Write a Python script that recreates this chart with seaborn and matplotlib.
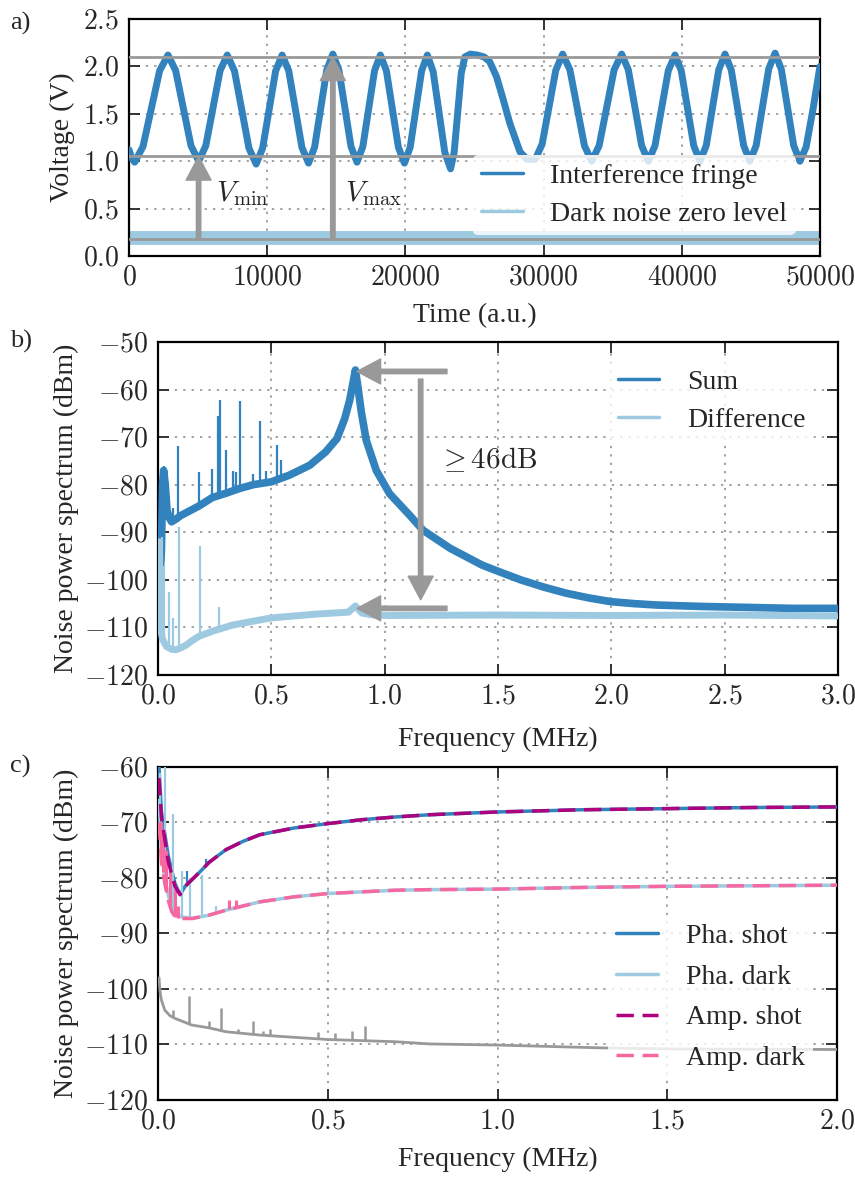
# -*- coding: utf-8 -*-
# fringe visibility + balanced detector noise spectra, three stacked panels
import numpy as np
import pandas as pd
import matplotlib
matplotlib.use("Agg")
import matplotlib.pyplot as plt
from matplotlib.lines import Line2D
from matplotlib.ticker import FuncFormatter, MultipleLocator
import seaborn as sns

# ---------------- data ----------------
# a) interference fringe (time in a.u., voltage in V)
fringe_t = [0, 200, 410, 1012, 1615, 2217, 2820, 3375, 3930, 4485, 5040,
            5557, 6075, 6592, 7110, 7632, 8155, 8677, 9200, 9670, 10140, 10610,
            11080, 11557, 12035, 12512, 12990, 13430, 13870, 14310, 14750,
            15187, 15625, 16062, 16500, 16922, 17345, 17767, 18190, 18625,
            19060, 19495, 19930, 20345, 20760, 21175, 21590, 22010, 22430,
            22850, 23270, 23527, 23785, 24042, 24300, 24700, 25200, 25700,
            26100, 26600, 27080, 27560, 28290, 28800, 29400, 29895, 30390,
            30885, 31380, 31905, 32430, 32955, 33480, 34022, 34565, 35107,
            35650, 36132, 36615, 37097, 37580, 38062, 38545, 39027, 39510,
            39962, 40415, 40867, 41320, 41772, 42225, 42677, 43130, 43580,
            44030, 44480, 44930, 45385, 45840, 46295, 46750, 47200, 47650,
            48100, 48550, 49000, 49500, 50000]
fringe_v = [1.12, 1.03, 0.99, 1.155, 1.555, 1.955, 2.12, 1.956, 1.56, 1.164, 1.0,
            1.164, 1.56, 1.956, 2.12, 1.952, 1.545, 1.138, 0.97, 1.138, 1.545, 1.952,
            2.12, 1.954, 1.55, 1.146, 0.98, 1.148, 1.555, 1.962, 2.13,
            1.963, 1.56, 1.156, 0.99, 1.155, 1.555, 1.955, 2.12, 1.954,
            1.55, 1.146, 0.98, 1.146, 1.55, 1.954, 2.12, 1.945, 1.52,
            1.095, 0.92, 1.092, 1.51, 1.928, 2.10, 2.13, 2.12, 2.10,
            2.05, 1.89, 1.65, 1.40, 1.10, 1.02, 1.02, 1.18, 1.57,
            1.96, 2.13, 1.965, 1.565, 1.165, 1.0, 1.165, 1.565, 1.965,
            2.13, 1.965, 1.565, 1.165, 1.0, 1.164, 1.56, 1.956, 2.12,
            1.956, 1.56, 1.164, 1.0, 1.165, 1.565, 1.965, 2.13, 1.965,
            1.565, 1.165, 1.0, 1.166, 1.57, 1.974, 2.14, 1.974, 1.57,
            1.166, 1.0, 1.15, 1.55, 2.0]
dark_t = [0, 10000, 20000, 30000, 40000, 50000]
dark_v = [0.19, 0.19, 0.19, 0.19, 0.19, 0.19]
v_max, v_min, v_zero = 2.10, 1.05, 0.18

# b) sum / difference spectra (MHz, dBm)
sum_f = [0.008, 0.015, 0.02, 0.025, 0.032, 0.04, 0.05, 0.06, 0.08, 0.1, 0.14,
         0.18, 0.24, 0.3, 0.36, 0.42, 0.5, 0.58, 0.67, 0.74, 0.79, 0.824, 0.846,
         0.86, 0.871, 0.882, 0.897, 0.919, 0.963, 1.022, 1.11, 1.17, 1.29, 1.43,
         1.5, 1.6, 1.7, 1.8, 1.9, 2.0, 2.1, 2.2, 2.4, 2.6, 2.8, 3.0]
sum_db = [-100, -94, -80, -77, -80, -85.5, -87, -87.8, -87.2, -86.5, -85.5,
          -84.5, -82.7, -81.8, -80.8, -80.0, -79.4, -78.0, -75.9, -73.1, -70.3,
          -66.1, -62.2, -58.7, -55.9, -59.4, -64.7, -70.7, -77.0, -81.9, -86.4,
          -89.6, -93.4, -96.9, -98.2, -100.0, -101.5, -102.8, -103.8, -104.6,
          -105.0, -105.3, -105.6, -105.8, -106.0, -106.0]
sum_spike_f = [0.028, 0.066, 0.09, 0.18, 0.24, 0.265, 0.272, 0.30, 0.33, 0.345,
               0.36, 0.42, 0.45, 0.478, 0.527, 0.544]
sum_spike_db = [-76, -85, -71.8, -77.4, -76.6, -65.6, -62.1, -72.8, -77.2, -77.3,
                -62.5, -77.7, -66.7, -77.2, -71.6, -74.9]
diff_f = [0.004, 0.007, 0.012, 0.02, 0.037, 0.06, 0.08, 0.1, 0.125, 0.15, 0.18,
          0.24, 0.33, 0.42, 0.5, 0.6, 0.7, 0.77, 0.84, 0.871, 0.9, 0.95, 1.0,
          1.5, 2.0, 2.5, 3.0]
diff_db = [-92, -105, -110.5, -112.5, -114.0, -114.6, -114.7, -114.3, -113.7,
           -112.8, -111.9, -110.8, -109.5, -108.7, -108.0, -107.6, -107.2,
           -107.0, -106.8, -105.5, -107.0, -107.4, -107.5, -107.4, -107.5,
           -107.4, -107.6]
diff_spike_f = [0.018, 0.026, 0.047, 0.066, 0.093, 0.184, 0.27]
diff_spike_db = [-91, -97, -102.5, -108, -88.8, -92.8, -105.7]

# c) phase / amplitude quadrature spectra (MHz, dBm)
shot_f = [0.003, 0.01, 0.02, 0.03, 0.05, 0.065, 0.08, 0.1, 0.125, 0.15, 0.2,
          0.25, 0.3, 0.4, 0.5, 0.6, 0.7, 0.8, 1.0, 1.25, 1.5, 1.75, 2.0]
pha_shot_db = [-60, -68, -72, -76, -81, -83, -81.5, -80.3, -78.8, -77.2, -74.9,
               -73.4, -72.2, -71.0, -70.2, -69.5, -69.0, -68.6, -68.1, -67.7,
               -67.5, -67.3, -67.2]
amp_shot_db = [-62, -69, -73, -77, -81.5, -83, -81.5, -80.3, -78.8, -77.2, -74.9,
               -73.4, -72.2, -71.0, -70.2, -69.5, -69.0, -68.6, -68.1, -67.7,
               -67.5, -67.3, -67.2]
dark_f = [0.003, 0.01, 0.02, 0.03, 0.04, 0.05, 0.07, 0.1, 0.15, 0.2, 0.3, 0.4,
          0.5, 0.6, 0.7, 0.8, 1.0, 1.25, 1.5, 1.75, 2.0]
pha_dark_db = [-66, -75, -80, -83, -85.5, -86.5, -87.0, -87.3, -86.7, -85.8,
               -84.3, -83.4, -82.8, -82.5, -82.2, -82.1, -82.0, -81.7, -81.5,
               -81.4, -81.3]
amp_dark_db = [-70, -77, -81, -84, -86, -87, -87.3, -87.3, -86.7, -85.8,
               -84.3, -83.4, -82.8, -82.5, -82.2, -82.1, -82.0, -81.7, -81.5,
               -81.4, -81.3]
pha_shot_spike_f = [0.085, 0.14]
pha_shot_spike_db = [-78.8, -76.6]
pha_dark_spike_f = [0.005, 0.02, 0.045, 0.07, 0.093, 0.13, 0.17, 0.5, 0.72]
pha_dark_spike_db = [-61, -60, -68.5, -78.8, -80, -79.5, -85.1, -82, -81.8]
amp_dark_spike_f = [0.008, 0.015, 0.025, 0.035, 0.05, 0.06, 0.21, 0.23]
amp_dark_spike_db = [-70, -72, -75, -78, -82, -85, -84, -84]
elec_f = [0.003, 0.006, 0.01, 0.02, 0.035, 0.05, 0.1, 0.15, 0.2, 0.3, 0.4, 0.5,
          0.6, 0.7, 0.8, 1.0, 1.3, 1.5, 2.0]
elec_db = [-98, -100.5, -102, -103.8, -104.8, -105.3, -106.5, -107, -107.7,
           -108.3, -108.7, -109.1, -109.3, -109.5, -109.9, -110.1, -110.6,
           -110.8, -110.9]
elec_spike_f = [0.045, 0.09, 0.15, 0.185, 0.235, 0.28, 0.31, 0.33, 0.47, 0.52,
                0.57, 0.61]
elec_spike_db = [-103.8, -101.3, -105.8, -103.4, -107.2, -105.8, -107.5, -107.2,
                 -107.7, -108.0, -107.5, -106.7]

# ---------------- style ----------------
DARK = "#3182bd"
LIGHT = "#9ecae1"
MAG = "#ae017e"
PINK = "#f768a1"
GREY = "#999999"

sns.set_style("ticks")
plt.rcParams["font.family"] = ["Liberation Serif", "DejaVu Serif"]
plt.rcParams["mathtext.fontset"] = "cm"
plt.rcParams["axes.linewidth"] = 1.6

fig = plt.figure(figsize=(8.55, 11.8), dpi=100)
ax_a = fig.add_axes([0.1509, 0.783, 0.959 - 0.1509, 0.9839 - 0.783])
ax_b = fig.add_axes([0.1848, 0.428, 0.980 - 0.1848, 0.7102 - 0.428])
ax_c = fig.add_axes([0.1848, 0.0678, 0.979 - 0.1848, 0.35 - 0.0678])

LEG_KW = dict(fontsize=20, frameon=True, framealpha=0.8, edgecolor="none",
              handlelength=1.5, handletextpad=1.0, borderpad=0.3, labelspacing=0.45)


def style_axes(ax, fmt):
    ax.tick_params(direction="in", top=True, right=True, length=8, width=1.3,
                   labelsize=20, pad=7)
    ax.xaxis.set_major_formatter(FuncFormatter(lambda v, p: "$" + fmt[0].format(v) + "$"))
    ax.yaxis.set_major_formatter(FuncFormatter(lambda v, p: "$" + fmt[1].format(v) + "$"))
    ax.grid(True, linestyle=(0, (1.5, 4)), color="#888888", lw=1.1)
    for s in ax.spines.values():
        s.set_color("black")


def spikes(ax, base_f, base_db, sf, sdb, color, lw=1.6, z=3):
    base = np.interp(sf, base_f, base_db)
    ax.vlines(sf, base, sdb, colors=color, lw=lw, zorder=z)


arrow_kw = dict(color=GREY, width=3.2, headwidth=18, headlength=17, shrink=0)

# ---------------- a) ----------------
df_a = pd.DataFrame({"t": fringe_t, "v": fringe_v})
sns.lineplot(data=df_a, x="t", y="v", ax=ax_a, color=DARK, lw=5, estimator=None, zorder=3)
sns.lineplot(x=dark_t, y=dark_v, ax=ax_a, color=LIGHT, lw=10, estimator=None, zorder=2)
for lvl in (v_max, v_min, v_zero):
    ax_a.axhline(lvl, color=GREY, lw=2, zorder=4)
ax_a.annotate("", xy=(5036, v_min), xytext=(5036, v_zero), arrowprops=arrow_kw, zorder=5)
ax_a.annotate("", xy=(14750, v_max), xytext=(14750, v_zero), arrowprops=arrow_kw, zorder=5)
ax_a.text(6300, 0.66, r"$V_\mathrm{min}$", fontsize=21, va="center", ha="left")
ax_a.text(15600, 0.66, r"$V_\mathrm{max}$", fontsize=21, va="center", ha="left")
ax_a.set_xlim(0, 50000)
ax_a.set_ylim(0, 2.5)
ax_a.xaxis.set_major_locator(MultipleLocator(10000))
ax_a.yaxis.set_major_locator(MultipleLocator(0.5))
ax_a.set_xlabel("Time (a.u.)", fontsize=20, labelpad=9)
ax_a.set_ylabel("Voltage (V)", fontsize=20, labelpad=6)
style_axes(ax_a, ("{:.0f}", "{:.1f}"))
ax_a.legend(handles=[Line2D([], [], color=DARK, lw=2.5, label="Interference fringe"),
                     Line2D([], [], color=LIGHT, lw=2.5, label="Dark noise zero level")],
            loc="lower right", bbox_to_anchor=(0.985, 0.03), **LEG_KW)

# ---------------- b) ----------------
sns.lineplot(x=sum_f, y=sum_db, ax=ax_b, color=DARK, lw=5.5, estimator=None, zorder=3)
spikes(ax_b, sum_f, sum_db, sum_spike_f, sum_spike_db, DARK)
sns.lineplot(x=diff_f, y=diff_db, ax=ax_b, color=LIGHT, lw=5, estimator=None, zorder=3)
spikes(ax_b, diff_f, diff_db, diff_spike_f, diff_spike_db, LIGHT)
ax_b.annotate("", xy=(0.878, -56.2), xytext=(1.275, -56.2), arrowprops=arrow_kw, zorder=5)
ax_b.annotate("", xy=(0.878, -106.0), xytext=(1.275, -106.0), arrowprops=arrow_kw, zorder=5)
ax_b.annotate("", xy=(1.159, -104.2), xytext=(1.159, -57.8), arrowprops=arrow_kw, zorder=5)
ax_b.text(1.235, -74.8, r"$\geq 46\mathrm{dB}$", fontsize=21, va="center", ha="left")
ax_b.set_xlim(0, 3)
ax_b.set_ylim(-120, -50)
ax_b.xaxis.set_major_locator(MultipleLocator(0.5))
ax_b.yaxis.set_major_locator(MultipleLocator(10))
ax_b.set_xlabel("Frequency (MHz)", fontsize=20, labelpad=12)
ax_b.set_ylabel("Noise power spectrum (dBm)", fontsize=20, labelpad=4)
style_axes(ax_b, ("{:.1f}", "{:.0f}"))
ax_b.legend(handles=[Line2D([], [], color=DARK, lw=2.5, label="Sum"),
                     Line2D([], [], color=LIGHT, lw=2.5, label="Difference")],
            loc="upper right", bbox_to_anchor=(0.985, 0.985), **LEG_KW)

# ---------------- c) ----------------
dash = (0, (5, 2.5))
sns.lineplot(x=shot_f, y=pha_shot_db, ax=ax_c, color=DARK, lw=2.5, estimator=None, zorder=3)
spikes(ax_c, shot_f, pha_shot_db, pha_shot_spike_f, pha_shot_spike_db, DARK)
sns.lineplot(x=dark_f, y=pha_dark_db, ax=ax_c, color=LIGHT, lw=2.5, estimator=None, zorder=3)
spikes(ax_c, dark_f, pha_dark_db, pha_dark_spike_f, pha_dark_spike_db, LIGHT)
sns.lineplot(x=shot_f, y=amp_shot_db, ax=ax_c, color=MAG, lw=2.5, estimator=None, zorder=4,
             linestyle=dash)
sns.lineplot(x=dark_f, y=amp_dark_db, ax=ax_c, color=PINK, lw=2.5, estimator=None, zorder=4,
             linestyle=dash)
spikes(ax_c, dark_f, amp_dark_db, amp_dark_spike_f, amp_dark_spike_db, PINK, lw=2.2)
sns.lineplot(x=elec_f, y=elec_db, ax=ax_c, color=GREY, lw=2, estimator=None, zorder=3)
spikes(ax_c, elec_f, elec_db, elec_spike_f, elec_spike_db, GREY, lw=1.8)
ax_c.set_xlim(0, 2)
ax_c.set_ylim(-120, -60)
ax_c.xaxis.set_major_locator(MultipleLocator(0.5))
ax_c.yaxis.set_major_locator(MultipleLocator(10))
ax_c.set_xlabel("Frequency (MHz)", fontsize=20, labelpad=9)
ax_c.set_ylabel("Noise power spectrum (dBm)", fontsize=20, labelpad=4)
style_axes(ax_c, ("{:.1f}", "{:.0f}"))
leg_c = dict(LEG_KW, labelspacing=0.55)
ax_c.legend(handles=[Line2D([], [], color=DARK, lw=2.5, label="Pha. shot"),
                     Line2D([], [], color=LIGHT, lw=2.5, label="Pha. dark"),
                     Line2D([], [], color=MAG, lw=2.5, ls=dash, label="Amp. shot"),
                     Line2D([], [], color=PINK, lw=2.5, ls=dash, label="Amp. dark")],
            loc="lower right", bbox_to_anchor=(0.985, 0.02), **leg_c)

# panel letters
for lab, y in (("a)", 0.99), ("b)", 0.72), ("c)", 0.36)):
    fig.text(0.012, y, lab, fontsize=19, va="top", ha="left")

fig.savefig("out.png", dpi=100)
